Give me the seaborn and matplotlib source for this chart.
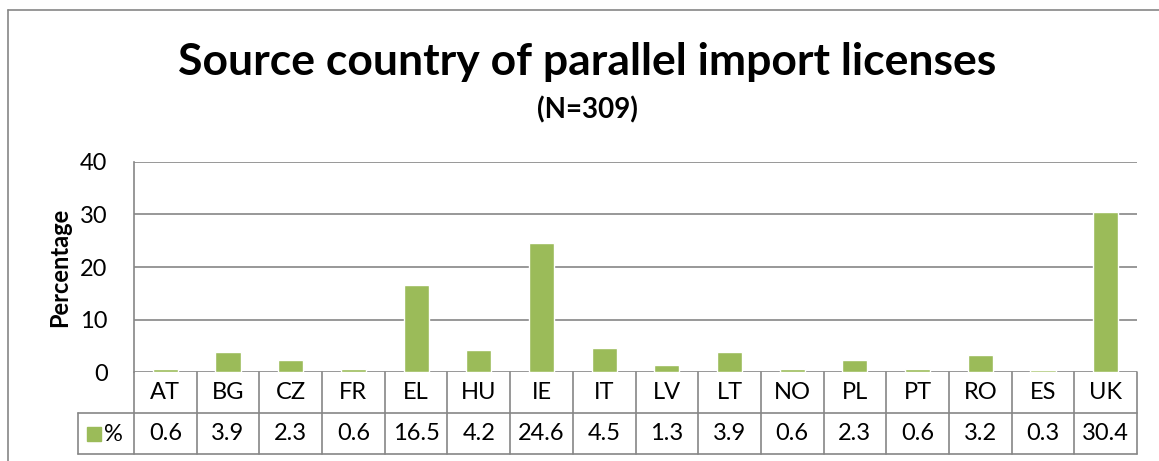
import matplotlib
matplotlib.use("Agg")
import matplotlib.pyplot as plt
import seaborn as sns
import pandas as pd
from matplotlib.lines import Line2D
from matplotlib.patches import Rectangle

countries = ["AT", "BG", "CZ", "FR", "EL", "HU", "IE", "IT", "LV", "LT", "NO", "PL", "PT", "RO", "ES", "UK"]
percent = [0.6, 3.9, 2.3, 0.6, 16.5, 4.2, 24.6, 4.5, 1.3, 3.9, 0.6, 2.3, 0.6, 3.2, 0.3, 30.4]
value_labels = ["0.6", "3.9", "2.3", "0.6", "16.5", "4.2", "24.6", "4.5", "1.3", "3.9", "0.6", "2.3", "0.6", "3.2", "0.3", "30.4"]
yticks = [0, 10, 20, 30, 40]

sns.set_theme(style="white")
plt.rcParams['font.family'] = ['Lato', 'DejaVu Sans']
for k in ["text.color", "axes.labelcolor", "xtick.color", "ytick.color"]:
    plt.rcParams[k] = "black"

W, H = 1159, 461
fig = plt.figure(figsize=(W / 100, H / 100), dpi=100)
L, R, T, B = 134, 1137, 162, 372
ax = fig.add_axes([L / W, 1 - B / H, (R - L) / W, (B - T) / H])

df = pd.DataFrame({"country": countries, "pct": percent})
green = "#9BBB59"
grid = "#868686"
sns.barplot(data=df, x="country", y="pct", color=green, width=0.4, ax=ax, saturation=1)

FS = 17
ax.set_ylim(0, 40)
ax.set_xlim(-0.5, len(countries) - 0.5)
ax.set_yticks(yticks)
ax.set_yticklabels([str(t) for t in yticks], fontsize=FS)
ax.tick_params(axis="y", length=0, pad=19)
ax.set_xticks([])
ax.set_xlabel("")
ax.set_ylabel("")
for t in yticks:
    ax.axhline(t, color=grid, lw=1.2, zorder=0)
for s in ["top", "right", "bottom"]:
    ax.spines[s].set_visible(False)
ax.spines["left"].set_color(grid)
ax.spines["left"].set_linewidth(1.2)
fig.text(60 / W, 1 - 267 / H, "Percentage", fontsize=17, fontweight="bold", rotation=90, ha="center", va="center")

# data table
tr = ax.get_xaxis_transform()
row_h = 41 / (B - T)
y0 = 0
y1 = -row_h
y2 = -2 * row_h
leg_left_px = 78
x_leg = -0.5 - (L - leg_left_px) / ((R - L) / len(countries))
n = len(countries)
lines = []
lines.append(Line2D([x_leg, n - 0.5], [y1, y1], transform=tr, color=grid, lw=1.2, clip_on=False))
lines.append(Line2D([x_leg, n - 0.5], [y2, y2], transform=tr, color=grid, lw=1.2, clip_on=False))
lines.append(Line2D([x_leg, x_leg], [y1, y2], transform=tr, color=grid, lw=1.2, clip_on=False))
lines.append(Line2D([-0.5, -0.5], [y0, y2], transform=tr, color=grid, lw=1.2, clip_on=False))
for i in range(n):
    xb = i + 0.5
    lines.append(Line2D([xb, xb], [y0, y2], transform=tr, color=grid, lw=1.2, clip_on=False))
for ln in lines:
    ax.add_line(ln)
for i, (c, v) in enumerate(zip(countries, value_labels)):
    ax.text(i, (y0 + y1) / 2, c, transform=tr, ha="center", va="center", fontsize=FS, clip_on=False)
    ax.text(i, (y1 + y2) / 2, v, transform=tr, ha="center", va="center", fontsize=FS, clip_on=False)
# legend key
fig.add_artist(Rectangle((87 / W, 1 - 441 / H), 14 / W, 14 / H, transform=fig.transFigure, color=green))
fig.text(104 / W, 1 - 434 / H, "%", fontsize=FS, va="center", ha="left")

# outer border
fig.add_artist(Line2D([8 / W, 8 / W], [0, 1 - 10 / H], transform=fig.transFigure, color=grid, lw=1.2))
fig.add_artist(Line2D([8 / W, 1], [1 - 10 / H, 1 - 10 / H], transform=fig.transFigure, color=grid, lw=1.2))

fig.text(587 / W, 1 - 62 / H, "Source country of parallel import licenses", fontsize=32, fontweight="bold", ha="center", va="center")
fig.text(587 / W, 1 - 110 / H, "(N=309)", fontsize=20, fontweight="bold", ha="center", va="center")

fig.savefig("out.png", dpi=100)
